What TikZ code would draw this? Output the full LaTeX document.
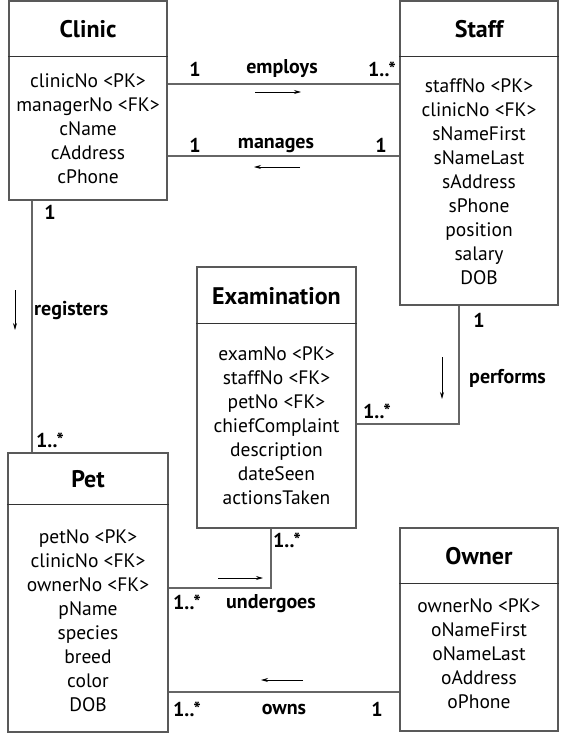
\documentclass[tikz,border=0pt]{standalone}
\usepackage{fontspec}
\setmainfont{PT Sans}
\usetikzlibrary{arrows.meta}
\begin{document}
\begin{tikzpicture}[x=1pt,y=-1pt,
  ebox/.style={draw=black!65,line width=1.2pt,rectangle,inner sep=0pt},
  divline/.style={draw=black!80,line width=1pt},
  title/.style={font=\fontsize{24}{28}\selectfont\bfseries,inner sep=0pt},
  attrs/.style={font=\fontsize{19.5}{24}\selectfont,align=center,inner sep=0pt},
  conn/.style={draw=black!60,line width=1.2pt},
  lbl/.style={font=\fontsize{20}{22}\selectfont\bfseries,inner sep=0pt},
  dirarrow/.style={draw=black,line width=0.8pt,-{Stealth[length=7pt,width=4pt]}}]
\useasboundingbox (0,0) rectangle (581,733);
% Clinic
\node[ebox,minimum width=158pt,minimum height=199pt] (clinic) at (88,100.5) {};
\draw[divline] (clinic.west |- 0,57) -- (clinic.east |- 0,57);
\node[title] (clinicT) at (88,29) {Clinic};
\node[attrs] (clinicA) at (88,129) {clinicNo <PK>\\managerNo <FK>\\cName\\cAddress\\cPhone};
% Staff
\node[ebox,minimum width=158pt,minimum height=304pt] (staff) at (479,153) {};
\draw[divline] (staff.west |- 0,57) -- (staff.east |- 0,57);
\node[title] (staffT) at (479,29) {Staff};
\node[attrs] (staffA) at (479,182) {staffNo <PK>\\clinicNo <FK>\\sNameFirst\\sNameLast\\sAddress\\sPhone\\position\\salary\\DOB};
% Examination
\node[ebox,minimum width=159pt,minimum height=261pt] (exam) at (276.5,397.5) {};
\draw[divline] (exam.west |- 0,323) -- (exam.east |- 0,323);
\node[title] (examT) at (276.5,296) {Examination};
\node[attrs] (examA) at (276.5,426) {examNo <PK>\\staffNo <FK>\\petNo <FK>\\chiefComplaint\\description\\dateSeen\\actionsTaken};
% Pet
\node[ebox,minimum width=160pt,minimum height=279pt] (pet) at (88,592.5) {};
\draw[divline] (pet.west |- 0,504) -- (pet.east |- 0,504);
\node[title] (petT) at (88,479) {Pet};
\node[attrs] (petA) at (88,621) {petNo <PK>\\clinicNo <FK>\\ownerNo <FK>\\pName\\species\\breed\\color\\DOB};
% Owner
\node[ebox,minimum width=158pt,minimum height=203pt] (owner) at (479,629.5) {};
\draw[divline] (owner.west |- 0,583) -- (owner.east |- 0,583);
\node[title] (ownerT) at (479,556) {Owner};
\node[attrs] (ownerA) at (479,654) {ownerNo <PK>\\oNameFirst\\oNameLast\\oAddress\\oPhone};
% employs
\draw[conn] (clinic.east |- 0,84) -- (staff.west |- 0,84);
\node[lbl] (e1) at (195,69) {1};
\node[lbl] (e2) at (282,69) {employs};
\node[lbl] (e3) at (382,69) {1..*};
\coordinate (ea1) at (255,92); \coordinate (ea2) at (301,92);
\draw[dirarrow] (ea1) -- (ea2);
% manages
\draw[conn] (clinic.east |- 0,156) -- (staff.west |- 0,156);
\node[lbl] (m1) at (195,145) {1};
\node[lbl] (m2) at (276,145) {manages};
\node[lbl] (m3) at (381,145) {1};
\coordinate (ma1) at (300,167); \coordinate (ma2) at (254,167);
\draw[dirarrow] (ma1) -- (ma2);
% registers
\draw[conn] (clinic.south -| 32,0) -- (pet.north -| 32,0);
\node[lbl] (r1) at (50,212) {1};
\node[lbl,anchor=west] (r2) at (34,311) {registers};
\node[lbl] (r3) at (50,440) {1..*};
\coordinate (ra1) at (15,290); \coordinate (ra2) at (15,330);
\draw[dirarrow] (ra1) -- (ra2);
% performs
\coordinate (pc) at (459,424);
\draw[conn] (staff.south -| pc) -- (pc) -- (exam.east |- pc);
\node[lbl] (p1) at (479,320) {1};
\node[lbl,anchor=west] (p2) at (469,378) {performs};
\node[lbl] (p3) at (377,411) {1..*};
\coordinate (pa1) at (442,357); \coordinate (pa2) at (442,399);
\draw[dirarrow] (pa1) -- (pa2);
% undergoes
\coordinate (uc) at (271,588);
\draw[conn] (exam.south -| uc) -- (uc) -- (pet.east |- uc);
\node[lbl] (u1) at (287,540) {1..*};
\node[lbl] (u2) at (187,602) {1..*};
\node[lbl] (u3) at (271,604) {undergoes};
\coordinate (ua1) at (218,578); \coordinate (ua2) at (263,578);
\draw[dirarrow] (ua1) -- (ua2);
% owns
\draw[conn] (owner.west |- 0,692) -- (pet.east |- 0,692);
\node[lbl] (o1) at (187,709) {1..*};
\node[lbl] (o2) at (284,709) {owns};
\node[lbl] (o3) at (377,709) {1};
\coordinate (oa1) at (303,680); \coordinate (oa2) at (261,680);
\draw[dirarrow] (oa1) -- (oa2);
\end{tikzpicture}
\end{document}
